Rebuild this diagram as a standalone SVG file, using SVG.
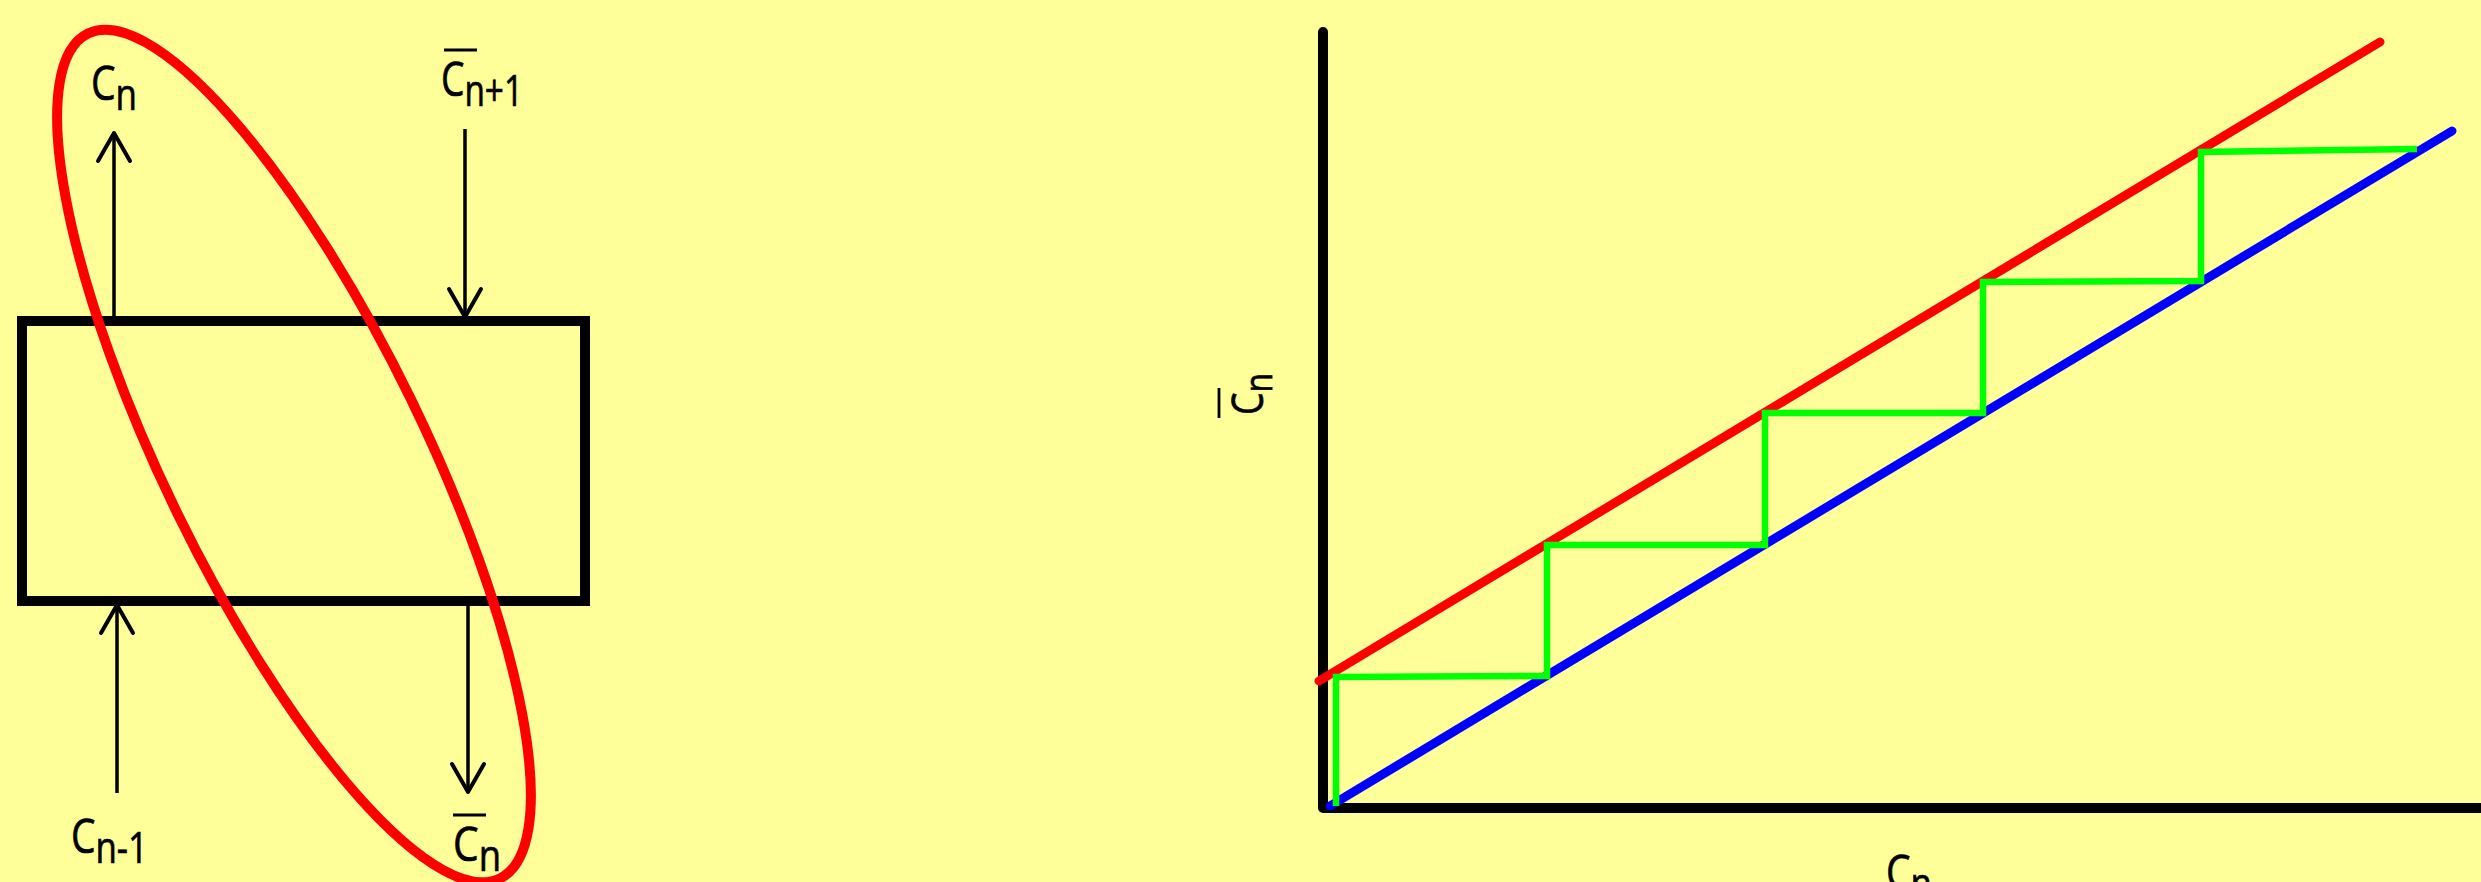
<svg xmlns="http://www.w3.org/2000/svg" width="2481" height="882" viewBox="0 0 2481 882">
<defs>
<style>
.lbl{font-family:"Open Sans","Liberation Sans",sans-serif;font-size:48px;fill:#000;stroke:#000;stroke-width:0.7}
.sub{font-size:43px}
.shaft{stroke:#000;stroke-width:3.5;fill:none}
.bar{stroke:#000;stroke-width:2.8}
.axis{stroke:#000;stroke-width:10;fill:none;stroke-linecap:round;stroke-linejoin:round}
.grn{stroke:#00FF00;stroke-width:6.5;fill:none;stroke-linejoin:miter}
</style>
<marker id="vhead" markerUnits="userSpaceOnUse" viewBox="-32 -20 36 40" markerWidth="36" markerHeight="40" refX="0" refY="0" orient="auto">
<path d="M-28,-16 L0,0 L-28,16" fill="none" stroke="#000" stroke-width="4" stroke-linecap="round" stroke-linejoin="round"/>
</marker>
</defs>
<rect width="2481" height="882" fill="#FFFF99"/>

<g id="stage">
<rect x="22" y="321" width="563" height="280" fill="none" stroke="#000" stroke-width="10"/>
</g>

<g id="connectors">
<line class="shaft" x1="114" y1="321" x2="114" y2="133" marker-end="url(#vhead)"/>
<line class="shaft" x1="465" y1="129" x2="465" y2="317" marker-end="url(#vhead)"/>
<line class="shaft" x1="117" y1="793" x2="117" y2="605" marker-end="url(#vhead)"/>
<line class="shaft" x1="468" y1="605" x2="468" y2="792" marker-end="url(#vhead)"/>
</g>

<g id="label-cn">
<text class="lbl" x="91" y="100" textLength="46" lengthAdjust="spacingAndGlyphs">C<tspan class="sub" dy="10">n</tspan></text>
</g>
<g id="label-cbar-n1">
<line class="bar" x1="444" y1="50" x2="477" y2="50"/>
<text class="lbl" x="441" y="96" textLength="82" lengthAdjust="spacingAndGlyphs">C<tspan class="sub" dy="10">n+1</tspan></text>
</g>
<g id="label-cn-1">
<text class="lbl" x="71" y="853" textLength="77" lengthAdjust="spacingAndGlyphs">C<tspan class="sub" dy="10">n-1</tspan></text>
</g>
<g id="label-cbar-n">
<line class="bar" x1="453" y1="815" x2="486" y2="815"/>
<text class="lbl" x="453" y="861" textLength="48" lengthAdjust="spacingAndGlyphs">C<tspan class="sub" dy="10">n</tspan></text>
</g>

<g id="balance-envelope">
<ellipse cx="294" cy="456" rx="470" ry="130" transform="rotate(64 294 456)" fill="none" stroke="#FF0000" stroke-width="10"/>
</g>

<g id="graph">
<polyline class="axis" points="1323,32 1323,808 2495,808"/>
<g id="operating-line">
<line x1="1319" y1="681" x2="2380" y2="42" stroke="#FF0000" stroke-width="9" stroke-linecap="round"/>
</g>
<g id="equilibrium-line">
<line x1="1330" y1="806" x2="2452" y2="131" stroke="#0000FF" stroke-width="9" stroke-linecap="round"/>
</g>
<g id="stages">
<polyline class="grn" points="1336,806 1336,677 1547,676 1547,545 1765,545 1765,413 1983,413 1983,282 2201,281 2201,152 2417,149"/>
</g>
<g id="y-label">
<line class="bar" x1="1219" y1="388" x2="1219" y2="418"/>
<text class="lbl" transform="translate(1263,415) rotate(-90)" x="0" y="0" style="font-size:44px" textLength="42" lengthAdjust="spacingAndGlyphs">C<tspan class="sub" dy="9" style="font-size:39px">n</tspan></text>
</g>
<g id="x-label">
<text class="lbl" x="1886" y="889" textLength="46" lengthAdjust="spacingAndGlyphs">C<tspan class="sub" dy="10">n</tspan></text>
</g>
</g>
</svg>
